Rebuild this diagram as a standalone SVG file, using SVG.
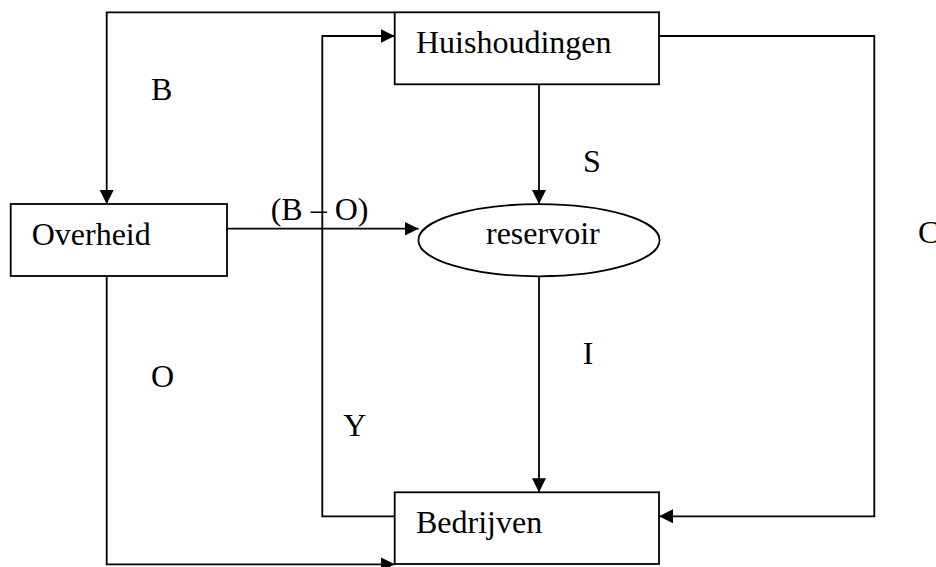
<svg xmlns="http://www.w3.org/2000/svg" width="936" height="567" viewBox="0 0 936 567">
<style>
  .box { fill: #fff; stroke: #000; stroke-width: 1.8; }
  .conn { fill: none; stroke: #000; stroke-width: 1.8; }
  text { font-family: "Liberation Serif", "Times New Roman", serif; font-size: 32px; fill: #000; }
</style>
<defs>
  <marker id="arr" markerUnits="userSpaceOnUse" markerWidth="15" markerHeight="15" refX="14" refY="7" orient="auto" viewBox="0 0 15 15">
    <path d="M0,0 L14,7 L0,14 z" fill="#000"/>
  </marker>
</defs>
<rect width="936" height="567" fill="#fff"/>
<g id="connectors">
  <path class="conn" d="M394.7,12.3 H106.7 V204" marker-end="url(#arr)"/>
  <path class="conn" d="M394.7,516.3 H322.3 V36 H394.7" marker-end="url(#arr)"/>
  <path class="conn" d="M659,36 H874.3 V516.3 H659" marker-end="url(#arr)"/>
  <path class="conn" d="M539,84.3 V204" marker-end="url(#arr)"/>
  <path class="conn" d="M539,276.3 V492.3" marker-end="url(#arr)"/>
  <path class="conn" d="M227,228.7 H418.5" marker-end="url(#arr)"/>
  <path class="conn" d="M106.7,276 V564.3 H394.7" marker-end="url(#arr)"/>
</g>
<g id="huishoudingen">
  <rect class="box" x="394.7" y="12.3" width="264.3" height="72"/>
  <text x="416" y="52.7">Huishoudingen</text>
</g>
<g id="overheid">
  <rect class="box" x="10.7" y="204" width="216.3" height="72"/>
  <text x="31.7" y="245">Overheid</text>
</g>
<g id="reservoir">
  <ellipse class="box" cx="539" cy="240.2" rx="120.6" ry="36.1"/>
  <text x="486" y="244">reservoir</text>
</g>
<g id="bedrijven">
  <rect class="box" x="394.7" y="492.3" width="264.3" height="71.7"/>
  <text x="416" y="532.7">Bedrijven</text>
</g>
<g id="labels">
  <text x="151" y="100">B</text>
  <text x="583" y="171.7">S</text>
  <text x="270.7" y="220.3">(B – O)</text>
  <text x="918" y="243.3">C</text>
  <text x="582.7" y="364.3">I</text>
  <text x="151" y="387.3">O</text>
  <text x="343.3" y="435.7">Y</text>
</g>
</svg>
